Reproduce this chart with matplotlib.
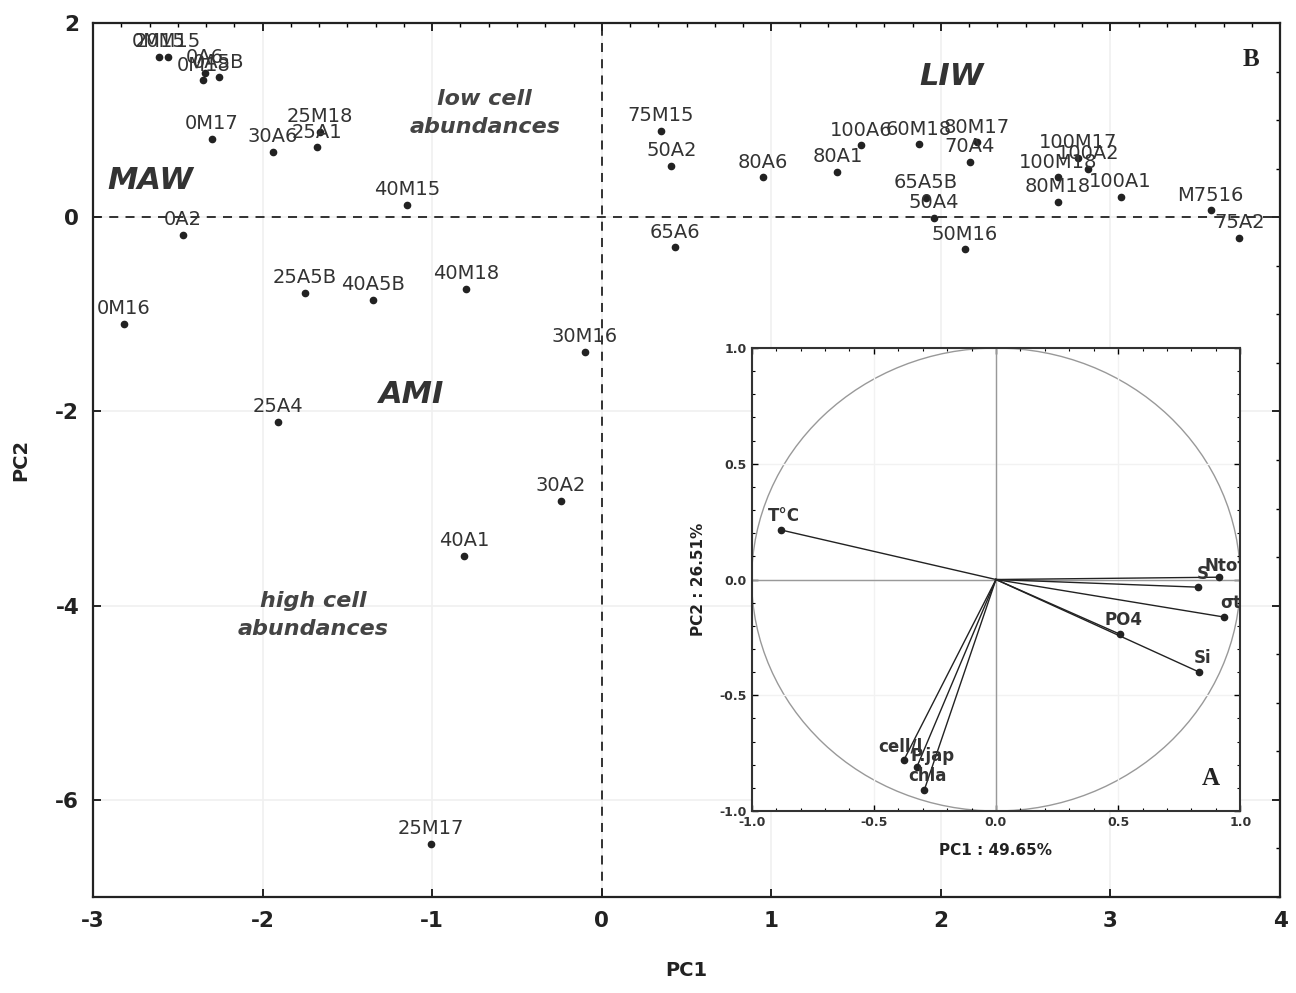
import matplotlib
matplotlib.use("Agg")
import matplotlib.pyplot as plt
from matplotlib.patches import Circle
from matplotlib.ticker import MultipleLocator

# ---- main PCA scores (panel B) ----
labels = ["0M15", "20M15", "0A6", "0M18", "0A5B", "0M17", "30A6", "25A1", "25M18",
          "40M15", "0A2", "0M16", "25A5B", "40A5B", "40M18", "30M16", "25A4", "30A2",
          "40A1", "25M17", "75M15", "50A2", "65A6", "80A6", "80A1", "100A6", "60M18",
          "80M17", "70A4", "65A5B", "50A4", "50M16", "100M17", "100M18", "100A2",
          "80M18", "100A1", "M7516", "75A2"]
pc1 = [-2.61, -2.56, -2.34, -2.35, -2.26, -2.30, -1.94, -1.68, -1.66,
       -1.15, -2.47, -2.82, -1.75, -1.35, -0.80, -0.10, -1.91, -0.24,
       -0.81, -1.01, 0.35, 0.41, 0.43, 0.95, 1.39, 1.53, 1.87,
       2.21, 2.17, 1.91, 1.96, 2.14, 2.81, 2.69, 2.87,
       2.69, 3.06, 3.59, 3.76]
pc2 = [1.65, 1.65, 1.49, 1.41, 1.44, 0.81, 0.67, 0.72, 0.88,
       0.13, -0.18, -1.10, -0.78, -0.85, -0.74, -1.39, -2.11, -2.92,
       -3.49, -6.45, 0.89, 0.53, -0.31, 0.41, 0.47, 0.74, 0.75,
       0.77, 0.57, 0.20, -0.01, -0.33, 0.61, 0.41, 0.50,
       0.16, 0.21, 0.07, -0.21]

x_ticks = [-3, -2, -1, 0, 1, 2, 3, 4]
y_ticks = [-6, -4, -2, 0, 2]

# ---- loadings (panel A) ----
var_names = ["T°C", "Ntot", "S", "σt", "PO4", "Si", "cell/l", "P.jap", "chla"]
load1 = [-0.88, 0.914, 0.826, 0.933, 0.509, 0.832, -0.376, -0.324, -0.293]
load2 = [0.214, 0.010, -0.033, -0.162, -0.237, -0.400, -0.778, -0.810, -0.908]
var_lab_x = [-0.867, 0.94, 0.846, 0.96, 0.522, 0.846, -0.392, -0.259, -0.282]
var_lab_y = [0.275, 0.060, 0.024, -0.10, -0.173, -0.341, -0.721, -0.761, -0.85]
inset_ticks = [-1.0, -0.5, 0.0, 0.5, 1.0]

fig = plt.figure(figsize=(12.96, 9.93), dpi=100)
ax = fig.add_axes([0.0718, 0.0967, 0.9159, 0.8801])
ax.set_xlim(-3, 4)
ax.set_ylim(-7, 2)
ax.set_xticks(x_ticks)
ax.set_yticks(y_ticks)
ax.set_xticklabels([str(v) for v in x_ticks], fontsize=15.5, fontweight="bold", color="#222")
ax.set_yticklabels([str(v) for v in y_ticks], fontsize=15.5, fontweight="bold", color="#222")
ax.xaxis.set_minor_locator(MultipleLocator(1 / 6))
ax.yaxis.set_minor_locator(MultipleLocator(0.5))
ax.tick_params(which="both", direction="in", top=True, right=True, labeltop=False, labelright=False)
ax.tick_params(which="major", length=6, width=1.2, pad=10)
ax.tick_params(which="minor", length=3, width=1)
ax.tick_params(axis="x", which="minor", bottom=False)
ax.tick_params(axis="y", which="minor", left=False)
for s in ax.spines.values():
    s.set_linewidth(1.6)
    s.set_color("#222")
ax.grid(True, which="major", color="#f0f0f0", linewidth=1.2)
ax.set_axisbelow(True)
ax.axhline(0, color="#222", linestyle=(0, (5, 4)), linewidth=1.3)
ax.axvline(0, color="#222", linestyle=(0, (5, 4)), linewidth=1.3)
ax.set_xlabel("PC1", fontsize=14, fontweight="bold", color="#222", labelpad=22)
ax.set_ylabel("PC2", fontsize=14, fontweight="bold", color="#222", labelpad=18)

ax.plot(pc1, pc2, "o", color="#222", markersize=4.5, zorder=4)
for lab, x, y in zip(labels, pc1, pc2):
    ax.annotate(lab, (x, y), xytext=(0, 7), textcoords="offset points",
                ha="center", va="baseline", fontsize=14, color="#333", zorder=5,
                annotation_clip=False, clip_on=True)

big = dict(fontsize=22, fontweight="bold", fontstyle="italic", color="#333", ha="center", va="center")
ax.text(-2.66, 0.38, "MAW", **big)
ax.text(2.06, 1.45, "LIW", **big)
ax.text(-1.12, -1.83, "AMI", **big)
mid = dict(fontsize=16, fontweight="bold", fontstyle="italic", color="#444", ha="center", va="center",
           linespacing=1.5)
ax.text(-0.69, 1.07, "low cell\nabundances", **mid)
ax.text(-1.70, -4.10, "high cell\nabundances", **mid)
ax.text(3.83, 1.62, "B", fontsize=18, fontweight="bold", family="Liberation Serif",
        color="#222", ha="center", va="center")

# ---- inset ----
ia = fig.add_axes([0.580, 0.1833, 0.377, 0.4662])
ia.set_xlim(-1, 1)
ia.set_ylim(-1, 1)
ia.set_xticks(inset_ticks)
ia.set_yticks(inset_ticks)
ia.set_xticklabels([f"{v:.1f}" for v in inset_ticks], fontsize=9, fontweight="bold", color="#333")
ia.set_yticklabels([f"{v:.1f}" for v in inset_ticks], fontsize=9, fontweight="bold", color="#333")
ia.xaxis.set_minor_locator(MultipleLocator(0.1))
ia.yaxis.set_minor_locator(MultipleLocator(0.1))
ia.tick_params(which="both", direction="in", top=True, right=True)
ia.tick_params(which="major", length=4, width=1)
ia.tick_params(which="minor", length=2, width=0.8)
for s in ia.spines.values():
    s.set_linewidth(1.5)
    s.set_color("#333")
ia.grid(True, which="major", color="#f2f2f2", linewidth=1)
ia.add_patch(Circle((0, 0), 1.0, fill=False, edgecolor="#999", linewidth=1))
ia.axhline(0, color="#999", linewidth=1)
ia.axvline(0, color="#999", linewidth=1)
for x, y in zip(load1, load2):
    ia.plot([0, x], [0, y], color="#222", linewidth=1)
ia.plot(load1, load2, "o", color="#222", markersize=4.5)
for lab, x, y in zip(var_names, var_lab_x, var_lab_y):
    ia.text(x, y, lab, fontsize=12, fontweight="bold", color="#333", ha="center", va="center",
            clip_on=True)
ia.set_xlabel("PC1 : 49.65%", fontsize=11, fontweight="bold", color="#222", labelpad=10)
ia.set_ylabel("PC2 : 26.51%", fontsize=11, fontweight="bold", color="#222", labelpad=10)
ia.text(0.88, -0.86, "A", fontsize=18, fontweight="bold", family="Liberation Serif",
        color="#222", ha="center", va="center")

fig.savefig("out.png", dpi=100)
